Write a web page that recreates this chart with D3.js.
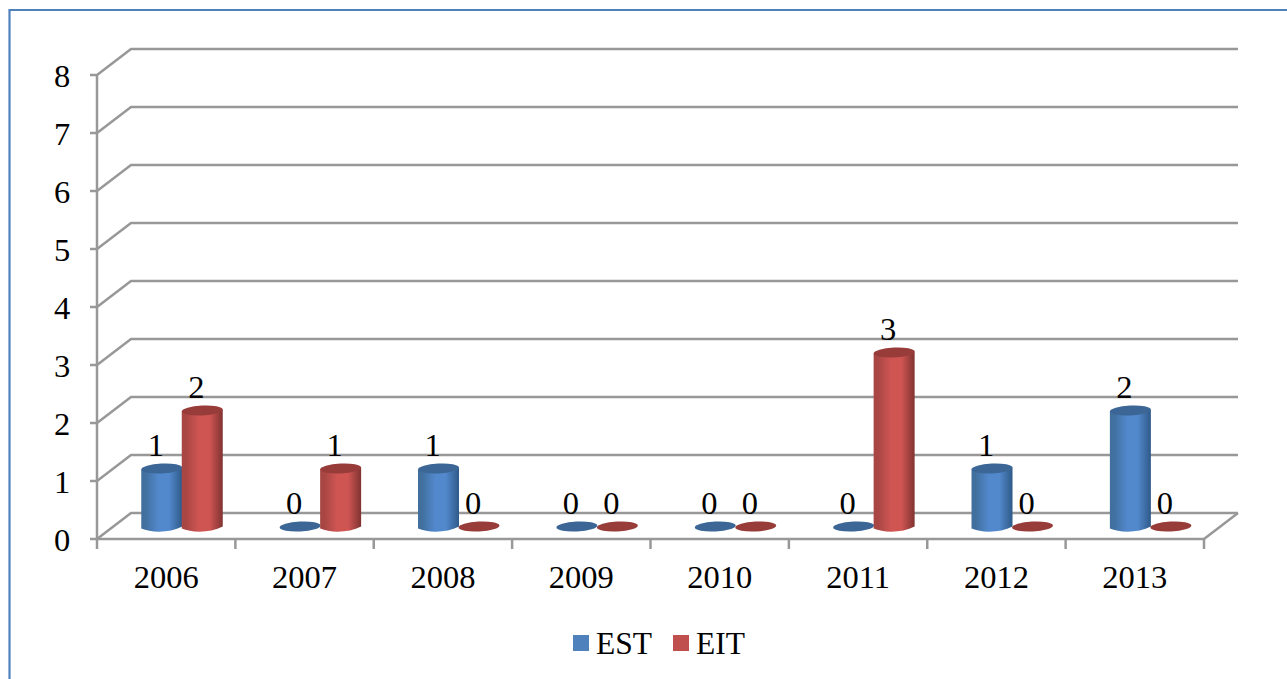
<!DOCTYPE html>
<html>
<head>
<meta charset="utf-8">
<script src="https://cdn.jsdelivr.net/npm/d3@7/dist/d3.min.js"></script>
<style>
html,body{margin:0;padding:0;background:#fff;overflow:hidden}
svg{display:block}
text{font-family:"Liberation Serif",serif;fill:#000}
</style>
</head>
<body>
<script>
const years = ["2006","2007","2008","2009","2010","2011","2012","2013"];
const estValues = [1,0,1,0,0,0,1,2];
const eitValues = [2,1,0,0,0,3,0,0];
const yTicks = [0,1,2,3,4,5,6,7,8];
const seriesNames = ["EST","EIT"];

const width = 1287, height = 679;
const gridColor = "#989898";
const fontSize = 32.5, legendFontSize = 31.5;
// Oblique offset between the front plane and the back wall
const depthX = 34, depthY = -26;
const plot = {left:97, right:1204, top:75, bottom:539};

const x = d3.scaleBand().domain(years).range([plot.left, plot.right]);
const y = d3.scaleLinear().domain([0,8]).range([plot.bottom, plot.top]);
const inner = d3.scaleBand().domain(seriesNames).range([0, 81]);

const svg = d3.select("body").append("svg").attr("width",width).attr("height",height);

// Horizontal gradients that give the cylinders their shading
const palette = {
  EST:{edgeL:"#41709f", mid:"#5288cc", edgeR:"#2f5a88", cap:"#3b6696"},
  EIT:{edgeL:"#a84644", mid:"#cf5553", edgeR:"#803331", cap:"#983c3a"}
};
const defs = svg.append("defs");
seriesNames.forEach(name=>{
  const p = palette[name];
  const g = defs.append("linearGradient").attr("id","cyl"+name);
  [[0,p.edgeL],[.1,p.edgeL],[.42,p.mid],[.68,p.mid],[1,p.edgeR]].forEach(([o,c])=>
    g.append("stop").attr("offset",o).attr("stop-color",c));
});

// Frame: only the top and left edges fall inside the page
const frame = d3.path();
frame.moveTo(9.5,height); frame.lineTo(9.5,10); frame.lineTo(width,10);
svg.append("path").attr("d",frame.toString()).attr("fill","none")
  .attr("stroke","#4f81bd").attr("stroke-width",2.2);

// Walls: back gridlines with the oblique connectors to the value axis
const grid = svg.append("g").attr("fill","none").attr("stroke",gridColor).attr("stroke-width",2.5);
yTicks.forEach(t=>{
  const path = d3.path();
  path.moveTo(plot.left - 7, y(t));
  path.lineTo(plot.left, y(t));
  path.lineTo(plot.left + depthX, y(t) + depthY);
  path.lineTo(plot.right + depthX, y(t) + depthY);
  grid.append("path").attr("d",path.toString());
});
grid.append("line").attr("x1",plot.left).attr("x2",plot.left).attr("y1",y(8)).attr("y2",y(0));

// Floor edges and category ticks
const floor = d3.path();
floor.moveTo(plot.left,y(0)); floor.lineTo(plot.right,y(0)); floor.lineTo(plot.right+depthX,y(0)+depthY);
grid.append("path").attr("d",floor.toString());
[...years.map(d=>x(d)), plot.right].forEach(px=>{
  grid.append("line").attr("x1",px).attr("x2",px).attr("y1",y(0)).attr("y2",y(0)+10);
});

// Value axis labels
svg.append("g").selectAll("text").data(yTicks).join("text")
  .attr("x",62).attr("y",d=>y(d)+12).attr("text-anchor","middle")
  .attr("font-size",fontSize).text(d=>d);

// Category labels
svg.append("g").selectAll("text").data(years).join("text")
  .attr("x",d=>x(d)+x.bandwidth()/2).attr("y",588).attr("text-anchor","middle")
  .attr("font-size",fontSize).text(d=>d);

// Cylinders, one group per series
const baseShiftX = 44.5, baseShiftY = -12.5, rx = 20.5, ry = 5;
const series = [{name:"EST",values:estValues},{name:"EIT",values:eitValues}];
const bars = svg.append("g");
const labels = svg.append("g");
series.forEach(s=>{
  s.values.forEach((v,i)=>{
    const cx = x(years[i]) + baseShiftX + inner(s.name) + inner.bandwidth()/2;
    const yBase = y(0) + baseShiftY;
    const yTop = y(v) + baseShiftY;
    const g = bars.append("g");
    if (v > 0) {
      const body = d3.path();
      body.moveTo(cx-rx,yTop+1);
      body.lineTo(cx-rx,yBase+2);
      body.bezierCurveTo(cx-rx*0.5,yBase+ry*1.3,cx+rx*0.4,yBase+ry*1.3,cx+rx,yBase);
      body.lineTo(cx+rx,yTop-1);
      body.closePath();
      g.append("path").attr("d",body.toString()).attr("fill",`url(#cyl${s.name})`);
    }
    g.append("ellipse").attr("cx",cx).attr("cy",yTop).attr("rx",rx).attr("ry",ry)
      .attr("transform",`rotate(-3 ${cx} ${yTop})`)
      .attr("fill",palette[s.name].cap);
    labels.append("text").attr("x",cx-6).attr("y",yTop-13).attr("text-anchor","middle")
      .attr("font-size",fontSize).text(v);
  });
});

// Legend
const legendItems = [{name:"EST",sx:573,color:"#4f81bd"},{name:"EIT",sx:673,color:"#c0504d"}];
const legend = svg.append("g");
legendItems.forEach(d=>{
  legend.append("rect").attr("x",d.sx).attr("y",635).attr("width",16).attr("height",16).attr("fill",d.color);
  legend.append("text").attr("x",d.sx+23).attr("y",654).attr("font-size",legendFontSize).text(d.name);
});
</script>
</body>
</html>
